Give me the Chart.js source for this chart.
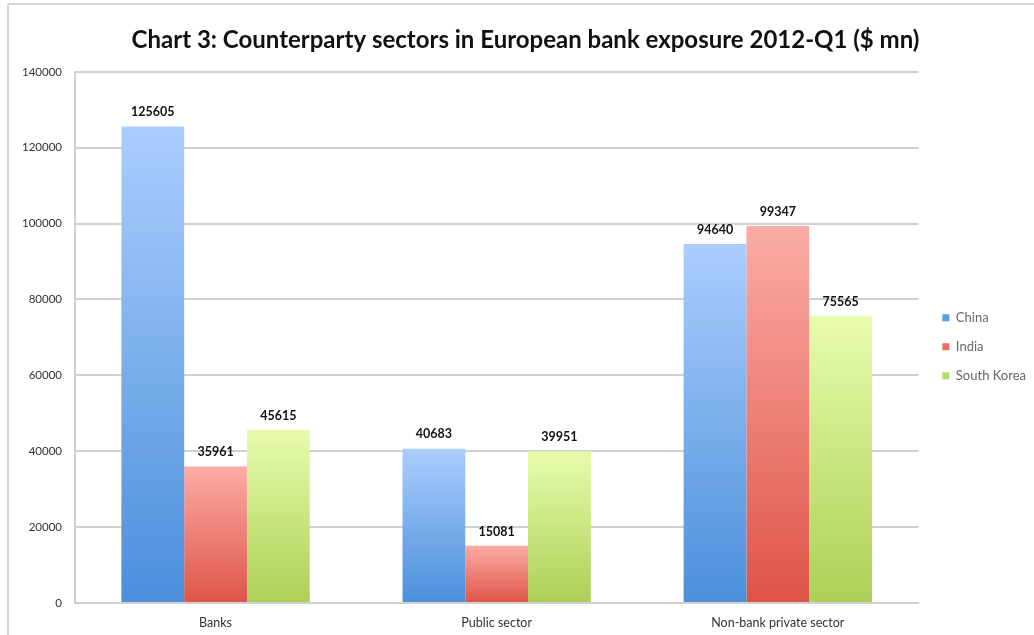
<!DOCTYPE html>
<html>
<head>
<meta charset="utf-8">
<script src="https://cdn.jsdelivr.net/npm/chart.js@4.4.1/dist/chart.umd.min.js"></script>
<style>
  html, body { margin: 0; padding: 0; background: #fff; }
  #wrap { position: relative; width: 1034px; height: 635px; overflow: hidden; }
  #frame { position: absolute; left: 7px; top: 3px; width: 1100px; height: 700px; border: 2px solid #d4d4d4; border-radius: 3px; }
  canvas { position: absolute; left: 0; top: 0; }
</style>
</head>
<body>
<div id="wrap">
  <div id="frame"></div>
  <canvas id="chart" width="1034" height="635"></canvas>
</div>
<script>
// chart data
const categories = ['Banks', 'Public sector', 'Non-bank private sector'];
const seriesNames = ['China', 'India', 'South Korea'];
const china = [125605, 40683, 94640];
const india = [35961, 15081, 99347];
const southKorea = [45615, 39951, 75565];
const yTicks = [0, 20000, 40000, 60000, 80000, 100000, 120000, 140000];

// top / bottom gradient colours per series
const topColors = ['#abcdfd', '#fbaca6', '#e8fbab'];
const bottomColors = ['#4a8fdb', '#df5447', '#acd056'];
const legendColors = ['#5b9be6', '#ec6b61', '#b8dc6c'];

function barGradient(ctx) {
  const chart = ctx.chart;
  const yScale = chart.scales.y;
  if (!yScale || ctx.raw === undefined) return legendColors[ctx.datasetIndex];
  const yTop = yScale.getPixelForValue(ctx.raw);
  const yBot = yScale.getPixelForValue(0);
  const g = chart.ctx.createLinearGradient(0, yTop, 0, yBot);
  g.addColorStop(0, topColors[ctx.datasetIndex]);
  g.addColorStop(1, bottomColors[ctx.datasetIndex]);
  return g;
}

// draw values above the bars
const valueLabels = {
  id: 'valueLabels',
  afterDatasetsDraw(chart) {
    const c = chart.ctx;
    c.save();
    c.font = 'bold 12.5px Lato';
    c.fillStyle = '#111';
    c.textAlign = 'center';
    c.textBaseline = 'bottom';
    chart.data.datasets.forEach((ds, i) => {
      chart.getDatasetMeta(i).data.forEach((bar, j) => {
        c.fillText(String(ds.data[j]), bar.x, bar.y - 8);
      });
    });
    c.restore();
  }
};

// nudge the legend a little further from the plot, like the original
const legendShift = {
  id: 'legendShift',
  afterLayout(chart) {
    if (chart.legend) {
      chart.legend.left += 8;
      chart.legend.right += 8;
    }
  }
};

const seriesData = [china, india, southKorea];

new Chart(document.getElementById('chart'), {
  type: 'bar',
  data: {
    labels: categories,
    datasets: seriesNames.map((name, i) => ({
      label: name,
      data: seriesData[i],
      backgroundColor: barGradient,
      borderWidth: 0,
      categoryPercentage: 0.67,
      barPercentage: 1.0,
    })),
  },
  options: {
    responsive: false,
    animation: false,
    layout: { padding: { left: 23, top: 14, right: 6, bottom: 0 } },
    scales: {
      x: {
        afterFit(scale) { scale.height = 32; },
        grid: { display: false, drawTicks: false },
        border: { color: '#d0d0d0', width: 2 },
        ticks: { color: '#333', font: { family: 'Lato', size: 12.5 }, padding: 12 },
      },
      y: {
        min: 0,
        max: 140000,
        afterBuildTicks(scale) {
          scale.ticks = yTicks.map(v => ({ value: v }));
        },
        afterFit(scale) { scale.width = 52; },
        grid: { color: '#d0d0d0', lineWidth: 2, drawTicks: false },
        border: { color: '#d0d0d0', width: 2 },
        ticks: {
          color: '#333',
          font: { family: 'Lato', size: 11.5 },
          padding: 13,
          callback: v => String(v),
        },
      },
    },
    plugins: {
      title: {
        display: true,
        text: 'Chart 3: Counterparty sectors in European bank exposure 2012-Q1 ($ mn)',
        color: '#111',
        font: { family: 'Lato', size: 24, weight: 'bold' },
        padding: { top: 12, bottom: 17 },
      },
      legend: {
        position: 'right',
        title: { display: true, text: '', font: { size: 2 }, padding: { top: 21, bottom: 21 } },
        labels: {
          boxWidth: 7,
          boxHeight: 7,
          padding: 16,
          color: '#333',
          font: { family: 'Lato', size: 13 },
          generateLabels(chart) {
            return chart.data.datasets.map((ds, i) => ({
              text: ds.label,
              fillStyle: legendColors[i],
              strokeStyle: legendColors[i],
              lineWidth: 0,
              datasetIndex: i,
            }));
          },
        },
      },
      tooltip: { enabled: false },
    },
  },
  plugins: [valueLabels, legendShift],
});
</script>
</body>
</html>
